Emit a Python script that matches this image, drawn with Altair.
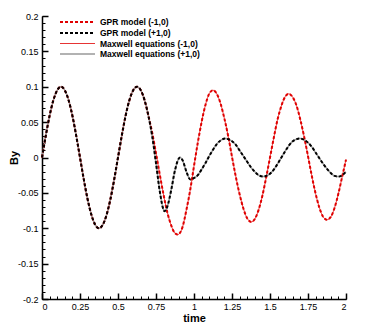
import altair as alt
import pandas as pd

# ---- data ----
series_names = ["GPR model (-1,0)", "GPR model (+1,0)",
                "Maxwell equations (-1,0)", "Maxwell equations (+1,0)"]

# common part (both curves coincide)
t_early = [0, 0.025, 0.05, 0.075, 0.1, 0.125, 0.15, 0.175, 0.2, 0.225, 0.25,
           0.275, 0.3, 0.325, 0.35, 0.375, 0.4, 0.425, 0.45, 0.475, 0.5,
           0.525, 0.55, 0.575, 0.6, 0.625, 0.65, 0.675, 0.7]
by_early = [0, 0.031, 0.059, 0.081, 0.095, 0.100, 0.095, 0.081, 0.059, 0.031, 0,
            -0.031, -0.059, -0.081, -0.095, -0.100, -0.095, -0.081, -0.059, -0.031, 0,
            0.031, 0.059, 0.081, 0.095, 0.100, 0.095, 0.081, 0.059]

# (-1,0) after divergence
t_minus = [0.725, 0.75, 0.775, 0.8, 0.825, 0.85, 0.875, 0.893, 0.925, 0.95, 0.975,
           1.0, 1.025, 1.05, 1.075, 1.1, 1.125, 1.15, 1.175, 1.2, 1.225, 1.25,
           1.275, 1.3, 1.325, 1.35, 1.377, 1.4, 1.425, 1.45, 1.475, 1.5, 1.525,
           1.55, 1.575, 1.6, 1.623, 1.65, 1.675, 1.7, 1.725, 1.75, 1.775, 1.8,
           1.825, 1.85, 1.875, 1.9, 1.925, 1.95, 1.975, 2.0]
by_minus = [0.035, 0.006, -0.024, -0.053, -0.078, -0.096, -0.107, -0.109, -0.098, -0.074, -0.046,
            -0.012, 0.021, 0.050, 0.074, 0.090, 0.095, 0.090, 0.076, 0.055, 0.030, 0.001,
            -0.027, -0.052, -0.072, -0.086, -0.091, -0.087, -0.074, -0.054, -0.028, 0.000, 0.028,
            0.054, 0.073, 0.086, 0.090, 0.085, 0.073, 0.053, 0.029, 0.002, -0.026, -0.051,
            -0.071, -0.084, -0.088, -0.084, -0.071, -0.051, -0.027, -0.003]

# (+1,0) after divergence
t_plus = [0.725, 0.75, 0.775, 0.8, 0.805, 0.825, 0.85, 0.875, 0.908, 0.925, 0.95, 0.976,
          1.0, 1.025, 1.05, 1.075, 1.1, 1.125, 1.15, 1.175, 1.206, 1.225, 1.25, 1.275,
          1.3, 1.325, 1.35, 1.375, 1.4, 1.425, 1.458, 1.475, 1.5, 1.525, 1.55, 1.575,
          1.6, 1.625, 1.65, 1.675, 1.693, 1.725, 1.75, 1.775, 1.8, 1.825, 1.85, 1.875,
          1.9, 1.925, 1.952, 1.975, 2.0]
by_plus = [0.030, -0.008, -0.048, -0.074, -0.076, -0.069, -0.046, -0.018, 0.000, -0.004, -0.020, -0.031,
           -0.029, -0.025, -0.017, -0.008, 0.002, 0.011, 0.019, 0.024, 0.027, 0.026, 0.023, 0.018,
           0.010, 0.002, -0.006, -0.014, -0.020, -0.025, -0.027, -0.026, -0.023, -0.017, -0.009, 0.000,
           0.009, 0.017, 0.023, 0.026, 0.027, 0.025, 0.021, 0.015, 0.007, -0.001, -0.009, -0.016,
           -0.022, -0.026, -0.027, -0.025, -0.020]

x_major = [0, 0.25, 0.5, 0.75, 1, 1.25, 1.5, 1.75, 2]
x_minor = [round(i * 0.05, 2) for i in range(41)]
y_major = [-0.2, -0.15, -0.1, -0.05, 0, 0.05, 0.1, 0.15, 0.2]
y_minor = [round(-0.2 + i * 0.01, 2) for i in range(41)]

rows = []
curve_minus = list(zip(t_early + t_minus, by_early + by_minus))
curve_plus = list(zip(t_early + t_plus, by_early + by_plus))
for name, curve in [(series_names[0], curve_minus), (series_names[1], curve_plus),
                    (series_names[2], curve_minus), (series_names[3], curve_plus)]:
    for t, v in curve:
        rows.append({"t": t, "By": v, "series": name})
df = pd.DataFrame(rows)

W, H = 304, 283
FONT = "Liberation Sans"

xscale = alt.Scale(domain=[0, 2], nice=False, zero=False)
yscale = alt.Scale(domain=[-0.2, 0.2], nice=False, zero=False)

legend = alt.Legend(title=None, orient="none", legendX=17, legendY=0,
                    symbolType="M-1,0H6", symbolSize=100, labelFont=FONT,
                    labelFontSize=8.5, labelFontWeight="bold", labelColor="black",
                    labelOffset=29, rowPadding=0, padding=0)

color = alt.Color("series:N", scale=alt.Scale(domain=series_names,
                  range=["#e00000", "#000000", "#e00000", "#999999"]), legend=legend)
dash = alt.StrokeDash("series:N", scale=alt.Scale(domain=series_names,
                      range=[[3, 2], [3, 2], [1, 0], [1, 0]]), legend=legend)
sw = alt.StrokeWidth("series:N", scale=alt.Scale(type="ordinal", domain=series_names,
                     range=[2, 2, 0.8, 1.5]), legend=legend)

base = alt.Chart(df)

maxwell = base.transform_filter(
    alt.FieldOneOfPredicate(field="series", oneOf=series_names[2:])
).mark_line(interpolate="monotone").encode(
    x=alt.X("t:Q", scale=xscale, axis=alt.Axis(
        orient="bottom", values=x_major, labelExpr="'' + datum.value",
        ticks=False, tickSize=0, domain=True, domainColor="black", domainWidth=1.5,
        grid=False, labelFont=FONT, labelFontSize=9, labelColor="black", labelPadding=3,
        title="time", titleFont=FONT, titleFontSize=11, titleFontWeight="bold",
        titleColor="black", titlePadding=1)),
    y=alt.Y("By:Q", scale=yscale, axis=alt.Axis(
        orient="left", values=y_major, labelExpr="'' + datum.value",
        ticks=False, tickSize=0, domain=True, domainColor="black", domainWidth=1.5,
        grid=False, labelFont=FONT, labelFontSize=9, labelColor="black", labelPadding=4,
        title="By", titleFont=FONT, titleFontSize=11, titleFontWeight="bold",
        titleColor="black", titleAngle=270, titleBaseline="bottom", titleAlign="center",
        titleX=-23, titleY=H / 2)),
    color=color, strokeDash=dash, strokeWidth=sw, detail="series:N",
)

gpr_minus = base.transform_filter(
    alt.FieldEqualPredicate(field="series", equal=series_names[0])
).mark_line(interpolate="monotone").encode(
    x=alt.X("t:Q", scale=xscale, axis=alt.Axis(
        orient="top", offset=-H, values=x_major, labels=False, domain=False,
        grid=False, ticks=True, tickSize=6, tickWidth=1.5, tickColor="black", title=None)),
    y=alt.Y("By:Q", scale=yscale, axis=alt.Axis(
        orient="right", offset=-W, values=y_major, labels=False, domain=False,
        grid=False, ticks=True, tickSize=6, tickWidth=1.5, tickColor="black", title=None)),
    color=color, strokeDash=dash, strokeWidth=sw,
)

gpr_plus = base.transform_filter(
    alt.FieldEqualPredicate(field="series", equal=series_names[1])
).mark_line(interpolate="monotone").encode(
    x=alt.X("t:Q", scale=xscale, axis=alt.Axis(
        orient="top", offset=-H, values=x_minor, labels=False, domain=False,
        grid=False, ticks=True, tickSize=3, tickWidth=1, tickColor="black", title=None)),
    y=alt.Y("By:Q", scale=yscale, axis=alt.Axis(
        orient="right", offset=-W, values=y_minor, labels=False, domain=False,
        grid=False, ticks=True, tickSize=3, tickWidth=1, tickColor="black", title=None)),
    color=color, strokeDash=dash, strokeWidth=sw,
)

chart = alt.layer(maxwell, gpr_minus, gpr_plus).resolve_axis(
    x="independent", y="independent"
).properties(
    width=W, height=H,
    padding={"left": 0, "top": 4, "right": 10, "bottom": 0},
    background="white",
).configure_view(stroke=None)

chart.save("out.html", embed_options={"renderer": "svg", "actions": False})
